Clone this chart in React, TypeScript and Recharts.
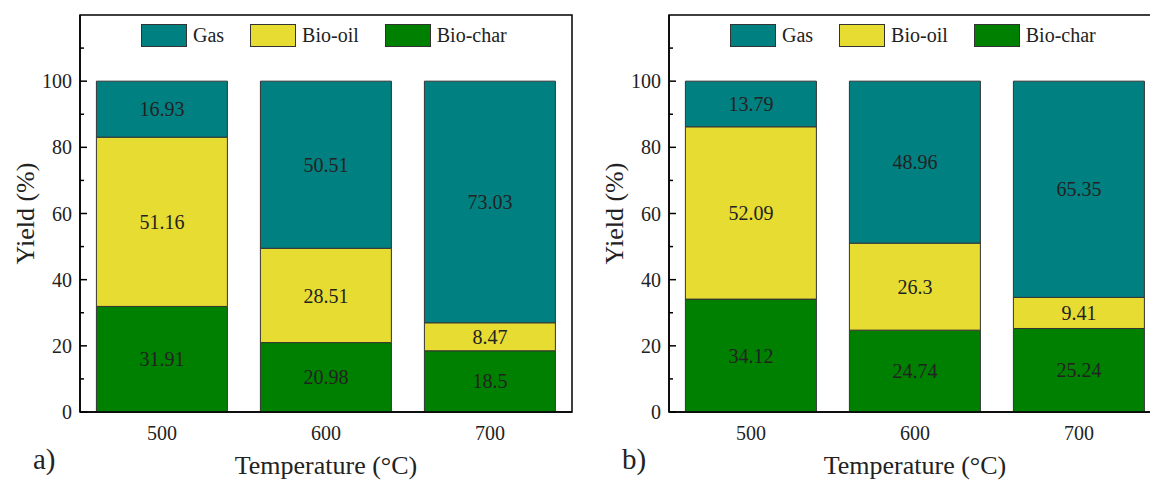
import React from 'react';
import { BarChart, Bar, XAxis, YAxis, Legend, LabelList, Label, ReferenceArea } from 'recharts';

const categories = ['500', '600', '700'];
const bioCharA = [31.91, 20.98, 18.5];
const bioOilA = [51.16, 28.51, 8.47];
const gasA = [16.93, 50.51, 73.03];
const bioCharB = [34.12, 24.74, 25.24];
const bioOilB = [52.09, 26.3, 9.41];
const gasB = [13.79, 48.96, 65.35];
const majorTicks = [0, 20, 40, 60, 80, 100];
const minorTicks = [10, 30, 50, 70, 90, 110];
const yDomain = [0, 120];

const legendItems = [
  { name: 'Gas', color: '#008080' },
  { name: 'Bio-oil', color: '#E6DC32' },
  { name: 'Bio-char', color: '#008000' },
];

const FONT = "'Liberation Serif', 'Times New Roman', serif";
const TXT = '#222';
const AX = { stroke: '#000', strokeWidth: 1.5 };
const Y_TICK_MARGIN = 8;

const allTicks = [...majorTicks, ...minorTicks].sort((a, b) => a - b);

const build = (c: number[], o: number[], g: number[]) =>
  categories.map((t, i) => ({ t, char: c[i], oil: o[i], gas: g[i] }));

const dataA = build(bioCharA, bioOilA, gasA);
const dataB = build(bioCharB, bioOilB, gasB);

const LegendBox = () => (
  <div style={{ display: 'flex', alignItems: 'center', fontFamily: FONT, fontSize: 20, color: TXT, whiteSpace: 'nowrap' }}>
    {legendItems.map((it, i) => (
      <div key={it.name} style={{ display: 'flex', alignItems: 'center', marginRight: i < legendItems.length - 1 ? 26 : 0 }}>
        <div style={{ width: 44, height: 21, background: it.color, border: '1px solid #333' }} />
        <span style={{ marginLeft: 6, lineHeight: '23px' }}>{it.name}</span>
      </div>
    ))}
  </div>
);

const YTick = (props: any) => {
  const { x, y, payload } = props;
  const v = payload.value;
  const isMajor = majorTicks.includes(v);
  const ax = x + Y_TICK_MARGIN;
  return (
    <g>
      <line x1={ax} x2={ax + (isMajor ? 7 : 4)} y1={y} y2={y} stroke="#000" strokeWidth={1.5} />
      {isMajor && (
        <text x={x} y={y} textAnchor="end" dominantBaseline="central" fill={TXT} fontSize={20} style={{ fontFamily: FONT }}>
          {v}
        </text>
      )}
    </g>
  );
};

function Panel({ data, tag, left }: { data: any[]; tag: string; left: number }) {
  const labelProps = { position: 'center' as const, fill: TXT, fontSize: 20, style: { fontFamily: FONT } };
  return (
    <div style={{ position: 'absolute', left, top: 0, fontFamily: FONT }}>
      <BarChart width={600} height={481} data={data} margin={{ top: 15, right: 28, left: 0, bottom: 0 }} barCategoryGap="10%" style={{ fontFamily: FONT }}>
        <XAxis
          dataKey="t"
          height={69}
          tickLine={false}
          tickSize={0}
          tickMargin={14}
          axisLine={AX}
          tick={{ fill: TXT, fontSize: 20, style: { fontFamily: FONT } }}
        >
          <Label
            content={(p: any) => {
              const vb = p.viewBox || {};
              const cx = (vb.x ?? 80) + (vb.width ?? 492) / 2;
              return (
                <g>
                  <text x={cx} y={(vb.y ?? 412) + 62} textAnchor="middle" fill={TXT} fontSize={26} style={{ fontFamily: FONT }}>
                    Temperature (°C)
                  </text>
                  <text x={(vb.x ?? 80) - 47} y={(vb.y ?? 412) + 57} fill={TXT} fontSize={29} style={{ fontFamily: FONT }}>
                    {tag}
                  </text>
                </g>
              );
            }}
          />
        </XAxis>
        <YAxis
          domain={yDomain}
          ticks={allTicks}
          interval={0}
          width={80}
          tickLine={false}
          tickSize={0}
          tickMargin={Y_TICK_MARGIN}
          axisLine={AX}
          tick={<YTick />}
        >
          <Label
            content={(p: any) => {
              const vb = p.viewBox || {};
              const cx = (vb.x ?? 0) + 25;
              const cy = (vb.y ?? 15) + (vb.height ?? 397) / 2;
              return (
                <text
                  x={cx}
                  y={cy}
                  transform={`rotate(-90, ${cx}, ${cy})`}
                  textAnchor="middle"
                  dominantBaseline="central"
                  fill={TXT}
                  fontSize={26}
                  style={{ fontFamily: FONT, fontWeight: 'normal' }}
                >
                  Yield (%)
                </text>
              );
            }}
          />
        </YAxis>
        <Legend
          layout="horizontal"
          verticalAlign="middle"
          align="center"
          wrapperStyle={{ top: 24, left: 141, width: 'auto' }}
          content={() => <LegendBox />}
        />
        <Bar dataKey="char" name="Bio-char" stackId="s" fill="#008000" stroke="#333" strokeWidth={1} isAnimationActive={false}>
          <LabelList dataKey="char" {...labelProps} />
        </Bar>
        <Bar dataKey="oil" name="Bio-oil" stackId="s" fill="#E6DC32" stroke="#333" strokeWidth={1} isAnimationActive={false}>
          <LabelList dataKey="oil" {...labelProps} />
        </Bar>
        <Bar dataKey="gas" name="Gas" stackId="s" fill="#008080" stroke="#333" strokeWidth={1} isAnimationActive={false}>
          <LabelList dataKey="gas" {...labelProps} />
        </Bar>
        <ReferenceArea y1={0} y2={120} fill="none" fillOpacity={0} stroke="#000" strokeWidth={1.5} />
      </BarChart>
    </div>
  );
}

export default function App() {
  return (
    <div style={{ position: 'absolute', left: 0, top: 0, width: 1150, height: 481, overflow: 'hidden', background: '#fff', fontFamily: FONT }}>
      <Panel data={dataA} tag="a)" left={0} />
      <Panel data={dataB} tag="b)" left={589} />
    </div>
  );
}
